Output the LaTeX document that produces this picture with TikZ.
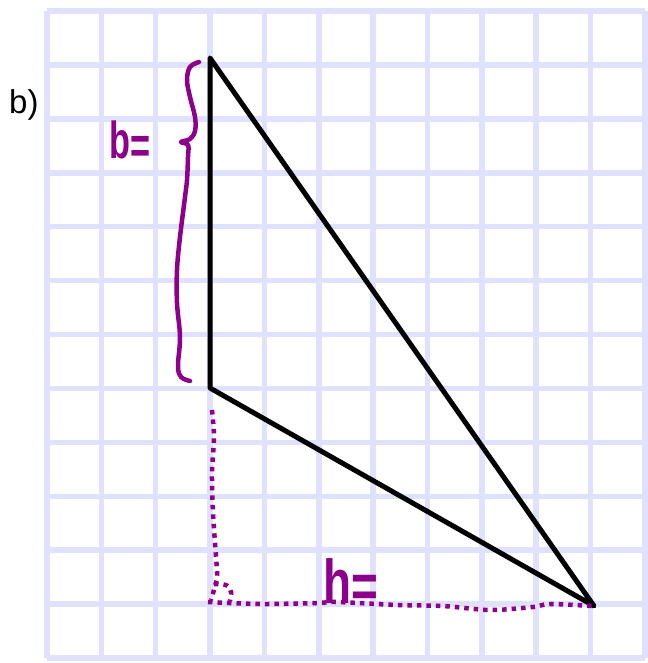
\documentclass[tikz,border=0pt]{standalone}
\usepackage{fontspec}
\setmainfont{Liberation Sans}
\definecolor{gridc}{RGB}{224,224,255}
\definecolor{pen}{RGB}{140,0,140}
\tikzset{
  gridline/.style={draw=gridc, line width=5.5pt},
  edge/.style={draw=black, line width=5pt, line cap=round, line join=round},
  penline/.style={draw=pen, line width=4.5pt, line cap=round, line join=round},
  pendots/.style={draw=pen, line width=4.5pt, dash pattern=on 4.5pt off 5pt},
  pentext/.style={text=pen, inner sep=0pt},
}
\begin{document}
\begin{tikzpicture}[x=1pt,y=-1pt]
\useasboundingbox (0,0) rectangle (647,663);
\fill[white] (0,0) rectangle (647,663);
% grid
\foreach \i in {0,...,11} {
  \draw[gridline] ({47+54.36*\i},11) -- ({47+54.36*\i},658);
}
\foreach \j in {0,...,12} {
  \draw[gridline] (47,{11+53.92*\j}) -- (645,{11+53.92*\j});
}
% label
\node[anchor=base west, inner sep=0pt, font=\fontsize{33}{38}\selectfont] (lab) at (9,114) {b)};
% triangle
\coordinate (T) at (210,58);
\coordinate (L) at (210,388);
\coordinate (R) at (594,606);
\draw[edge] (T) -- (L) -- (R) -- cycle;
% brace
\draw[penline] plot[smooth, tension=0.6] coordinates {(199,62) (190,67) (187,80) (190,97) (195,117) (195,131) (190,139) (181,142) (188,145) (188,157) (187,180) (185,197) (180,237) (177,270) (177,303) (180,337) (178,366) (181,377) (190,381)};
% dotted height and base
\draw[pendots] plot[smooth] coordinates {(212,410) (214,437) (212,473) (213,513) (216,557) (217,577) (211,600)};
\draw[pendots] plot[smooth] coordinates {(208,602) (260,604) (317,603) (337,602) (397,605) (443,606) (490,610) (533,607) (550,604) (592,606)};
\draw[pendots] plot[smooth] coordinates {(214,584) (226,585) (231,592) (230,601)};
% labels
\node[pentext, anchor=base west, xscale=0.66, font=\bfseries\fontsize{52}{60}\selectfont] (blab) at (109,159) {b\raisebox{-5pt}{=}};
\node[pentext, anchor=base west, xscale=0.74, font=\bfseries\fontsize{62}{70}\selectfont] (hlab) at (323,603) {h\raisebox{-4pt}{=}};
\end{tikzpicture}
\end{document}
